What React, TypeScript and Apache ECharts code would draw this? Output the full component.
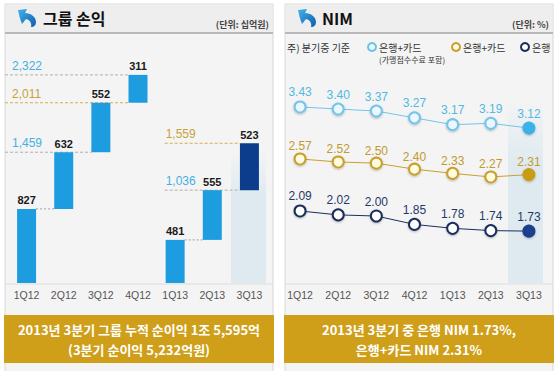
import { useEffect, useRef } from 'react';
import * as echarts from 'echarts';

const categories = ['1Q12', '2Q12', '3Q12', '4Q12', '1Q13', '2Q13', '3Q13'];
const quarterlyProfit = [827, 632, 552, 311, 481, 555, 523];
const fiscalYear = [2012, 2012, 2012, 2012, 2013, 2013, 2013];

const guideValues = [2322, 2011, 1459, 1559, 1036];
const guideStartCat = [-1, -1, -1, 4, 4];
const guideEndCat = [3, 3, 2, 6, 6];
const guideTone = ['blue', 'gold', 'blue', 'gold', 'blue'];
const connectorFrom = [0, 4];

const nimCardFee = [3.43, 3.4, 3.37, 3.27, 3.17, 3.19, 3.12];
const nimCard = [2.57, 2.52, 2.5, 2.4, 2.33, 2.27, 2.31];
const nimBank = [2.09, 2.02, 2.0, 1.85, 1.78, 1.74, 1.73];

const leftTitle = '그룹 손익';
const leftUnit = '(단위: 십억원)';
const rightTitle = 'NIM';
const rightUnit = '(단위: %)';
const leftNote = ['2013년 3분기 그룹 누적 순이익 1조 5,595억', '(3분기 순이익 5,232억원)'];
const rightNote = ['2013년 3분기 중 은행 NIM 1.73%,', '은행+카드 NIM 2.31%'];

const FONT = '"Liberation Sans", "Noto Sans CJK KR", sans-serif';
const KFONT = '"Noto Sans CJK KR", "Liberation Sans", sans-serif';

echarts.graphic.registerShape(
  'logo',
  echarts.graphic.extendPath(
    'M1 1 L10 0 L8 4 C14 4 19 8 19 13 C19 16 17 18 14 18 C15 14 13 11 9 10 L5 15 C3 10 2 6 1 1 Z',
    {}
  )
);

const fmt = (v: number) => v.toLocaleString('en-US');

export default function App() {
  const ref = useRef<HTMLDivElement>(null);
  useEffect(() => {
    if (!ref.current) return;
    const chart = echarts.init(ref.current, undefined, { renderer: 'svg' });

    const base: number[] = [];
    let run = 0;
    quarterlyProfit.forEach((v, i) => {
      if (i > 0 && fiscalYear[i] !== fiscalYear[i - 1]) run = 0;
      base.push(run);
      run += v;
    });

    const BAR = 19;
    const blueBar = '#1d9ce0';
    const navyBar = '#0c3d8c';

    const bandGrad = () =>
      new echarts.graphic.LinearGradient(0, 0, 0, 1, [
        { offset: 0, color: 'rgba(222,234,240,0)' },
        { offset: 0.35, color: 'rgba(222,234,240,1)' },
        { offset: 1, color: 'rgba(222,234,240,1)' },
      ]);

    const logoGrad = new echarts.graphic.LinearGradient(0, 0, 1, 1, [
      { offset: 0, color: '#45b3ea' },
      { offset: 1, color: '#0e5bb0' },
    ]);

    const txt = (x: number, y: number, text: string, font: string, fill: string, align = 'left', z = -5) => ({
      type: 'text',
      z,
      x,
      y,
      style: { text, fill, font, align, verticalAlign: 'middle', textAlign: align, textVerticalAlign: 'middle' },
    });

    const panel = (x: number, title: string, unit: string, note: string[], titleX: number) => [
      { type: 'rect', z: -10, shape: { x: x, y: 4, width: 268, height: 380 }, style: { fill: '#f4f4f4', stroke: '#d8d8d8', lineWidth: 1 } },
      { type: 'rect', z: -9, shape: { x: x + 0.5, y: 4.5, width: 267, height: 28 }, style: { fill: '#eeeeee' } },
      { type: 'line', z: -8, shape: { x1: x, y1: 33, x2: x + 268, y2: 33 }, style: { stroke: '#b9b9b9', lineWidth: 2 } },
      { type: 'logo', z: -7, x: x + 12, y: 9, scaleX: 1, scaleY: 1, style: { fill: logoGrad } },
      txt(titleX, 18, title, `bold 16px ${KFONT}`, '#111'),
      txt(x + 264, 24, unit, `bold 9px ${KFONT}`, '#444', 'right'),
      { type: 'line', z: -8, shape: { x1: x, y1: 284, x2: x + 268, y2: 284 }, style: { stroke: '#dcdcdc', lineWidth: 1 } },
      { type: 'rect', z: -6, shape: { x: x - 1, y: 315, width: 270, height: 48 }, style: { fill: '#cf9f1a' } },
      txt(x + 134, 329.5, note[0], `bold 13px ${KFONT}`, '#ffffff', 'center'),
      txt(x + 134, 349, note[1], `bold 13px ${KFONT}`, '#ffffff', 'center'),
    ];

    const legendItems = [
      txt(287, 47, '주) 분기중 기준', `10px ${KFONT}`, '#333'),
      { type: 'circle', shape: { cx: 372, cy: 47, r: 4 }, style: { fill: '#eaf7fd', stroke: '#6cc3ea', lineWidth: 2 } },
      txt(379, 47, '은행+카드', `10px ${KFONT}`, '#333'),
      txt(379, 59, '(가맹점수수료 포함)', `8px ${KFONT}`, '#333'),
      { type: 'circle', shape: { cx: 456, cy: 47, r: 4 }, style: { fill: '#fffbe6', stroke: '#c9a02c', lineWidth: 2 } },
      txt(463, 47, '은행+카드', `10px ${KFONT}`, '#333'),
      { type: 'circle', shape: { cx: 525, cy: 47, r: 4 }, style: { fill: '#ffffff', stroke: '#1b2f5a', lineWidth: 2 } },
      txt(532, 47, '은행', `10px ${KFONT}`, '#333'),
    ];

    const bands = [
      { type: 'rect', z: -4, shape: { x: 231, y: 150, width: 35, height: 133 }, style: { fill: bandGrad() } },
      { type: 'rect', z: -4, shape: { x: 508, y: 100, width: 35, height: 183 }, style: { fill: bandGrad() } },
    ];

    const nimSeries = (
      name: string,
      data: number[],
      yIdx: number,
      line: string,
      inner: string,
      last: string,
      labelColor: string,
      dist: number
    ) => ({
      name,
      type: 'line',
      xAxisIndex: 1,
      yAxisIndex: yIdx,
      data: data.map((v, i) =>
        i === data.length - 1
          ? { value: v, itemStyle: { color: last, borderColor: last } }
          : v
      ),
      symbol: 'circle',
      symbolSize: 11,
      lineStyle: { color: line, width: 1 },
      itemStyle: { color: inner, borderColor: line, borderWidth: 2, shadowColor: 'rgba(0,0,0,0.25)', shadowBlur: 2, shadowOffsetY: 1 },
      label: {
        show: true,
        position: 'top',
        distance: dist,
        color: labelColor,
        fontSize: 12,
        fontFamily: FONT,
        formatter: (p: any) => Number(p.value).toFixed(2),
      },
      z: 5,
    });

    chart.setOption({
      animation: false,
      backgroundColor: '#ffffff',
      graphic: [
        ...panel(5, leftTitle, leftUnit, leftNote, 43),
        ...panel(285, rightTitle, rightUnit, rightNote, 322),
        ...legendItems,
        ...bands,
      ],
      grid: [
        { left: 8, right: 292, top: 41, bottom: 88 },
        { left: 281, right: 12, top: 40, bottom: 88 },
      ],
      xAxis: [
        {
          type: 'category',
          gridIndex: 0,
          data: categories,
          axisLine: { show: false },
          axisTick: { show: false },
          axisLabel: { color: '#555', fontSize: 10.5, fontFamily: FONT, margin: 7 },
        },
        {
          type: 'category',
          gridIndex: 1,
          data: categories,
          axisLine: { show: false },
          axisTick: { show: false },
          axisLabel: { color: '#555', fontSize: 10.5, fontFamily: FONT, margin: 7 },
        },
      ],
      yAxis: [
        { type: 'value', gridIndex: 0, min: 0, max: 2700, show: false },
        { type: 'value', gridIndex: 1, min: 0.842, max: 4.415, show: false },
        { type: 'value', gridIndex: 1, min: 0.503, max: 4.553, show: false },
        { type: 'value', gridIndex: 1, min: 0.804, max: 5.143, show: false },
      ],
      series: [
        {
          type: 'bar',
          stack: 'wf',
          xAxisIndex: 0,
          yAxisIndex: 0,
          barWidth: BAR,
          data: base,
          itemStyle: { color: 'transparent' },
          silent: true,
        },
        {
          type: 'bar',
          stack: 'wf',
          xAxisIndex: 0,
          yAxisIndex: 0,
          barWidth: BAR,
          data: quarterlyProfit.map((v, i) =>
            i === quarterlyProfit.length - 1 ? { value: v, itemStyle: { color: navyBar } } : v
          ),
          itemStyle: { color: blueBar },
          label: {
            show: true,
            position: 'top',
            distance: 3,
            color: '#1a1a1a',
            fontWeight: 'bold',
            fontSize: 11,
            fontFamily: FONT,
          },
          z: 3,
        },
        {
          type: 'custom',
          xAxisIndex: 0,
          yAxisIndex: 0,
          data: guideValues.map((v, i) => [guideEndCat[i], v, guideStartCat[i], i]),
          renderItem: (params: any, api: any) => {
            const end = api.coord([api.value(0), api.value(1)]);
            const half = BAR / 2;
            const x2 = end[0] - half;
            const sc = api.value(2);
            const x1 = sc < 0 ? 5 : api.coord([sc, 0])[0] - half - 1;
            const idx = api.value(3);
            const gold = guideTone[idx] === 'gold';
            const tx = sc < 0 ? 12 : x1 + 1;
            return {
              type: 'group',
              children: [
                {
                  type: 'line',
                  shape: { x1, y1: end[1], x2, y2: end[1] },
                  style: { stroke: gold ? '#d6ad52' : '#b0b0b0', lineWidth: 1, lineDash: [3, 2] },
                },
                {
                  type: 'text',
                  x: tx,
                  y: end[1] - 3,
                  style: {
                    text: fmt(api.value(1)),
                    fill: gold ? '#c9a13c' : '#45b0e0',
                    font: `12px ${FONT}`,
                    align: 'left',
                    verticalAlign: 'bottom',
                    textAlign: 'left',
                    textVerticalAlign: 'bottom',
                  },
                },
              ],
            };
          },
          z: 1,
        },
        {
          type: 'custom',
          xAxisIndex: 0,
          yAxisIndex: 0,
          data: connectorFrom.map((i) => [i, base[i] + quarterlyProfit[i]]),
          renderItem: (params: any, api: any) => {
            const c = api.value(0);
            const v = api.value(1);
            const a = api.coord([c, v]);
            const b = api.coord([c + 1, v]);
            return {
              type: 'line',
              shape: { x1: a[0] + BAR / 2, y1: a[1], x2: b[0] - BAR / 2, y2: a[1] },
              style: { stroke: '#a0a0a0', lineWidth: 1, lineDash: [2, 2] },
            };
          },
          z: 1,
        },
        nimSeries('은행+카드 (가맹점수수료 포함)', nimCardFee, 1, '#74c5e8', '#eaf7fd', '#3ab3e8', '#52b8e3', 2),
        nimSeries('은행+카드', nimCard, 2, '#c9a02c', '#fffbe0', '#c99c18', '#c29a2e', 0),
        nimSeries('은행', nimBank, 3, '#1b2f5a', '#ffffff', '#1a3f8c', '#1f3a68', 2),
      ],
    });
    return () => chart.dispose();
  }, []);
  return (
    <div
      ref={ref}
      style={{ position: 'fixed', left: 0, top: 0, width: 560, height: 371 }}
    />
  );
}
